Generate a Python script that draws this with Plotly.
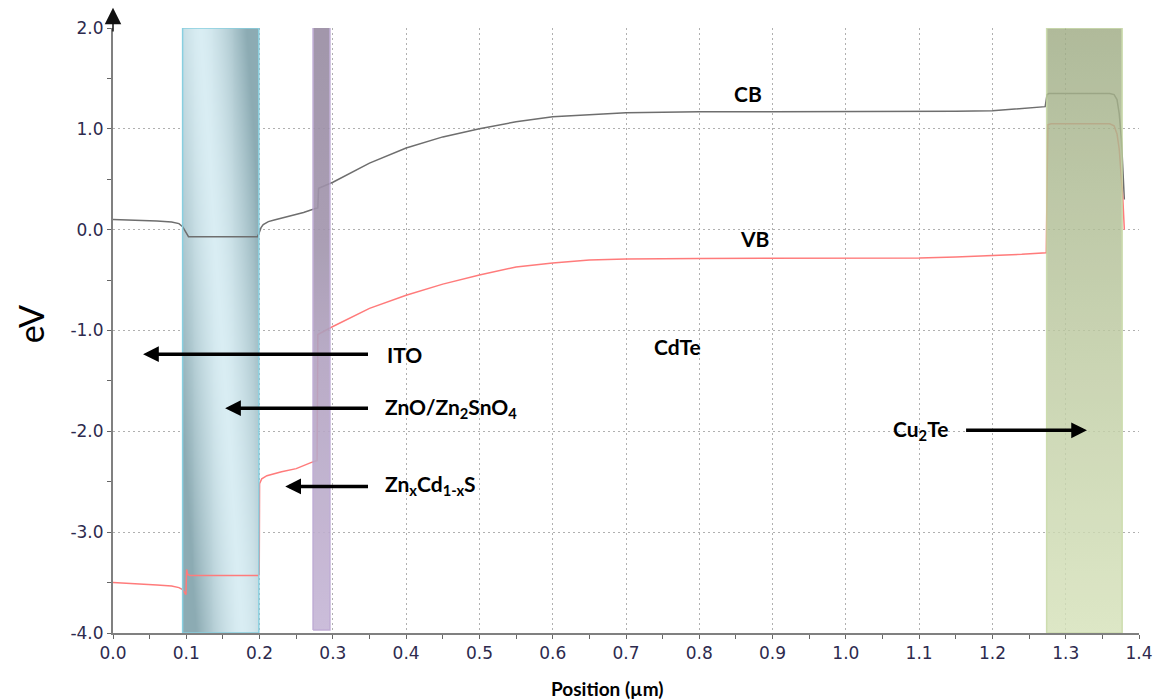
import numpy as np
import plotly.graph_objects as go

# ---------------- data ----------------
cb_x = [0.0, 0.03, 0.06, 0.08, 0.09, 0.095, 0.1, 0.103, 0.15, 0.197, 0.1995, 0.202, 0.205,
        0.212, 0.22, 0.24, 0.26, 0.276, 0.2795, 0.2805, 0.29, 0.3, 0.35, 0.4, 0.45, 0.5,
        0.55, 0.6, 0.65, 0.7, 0.75, 0.8, 0.9, 1.0, 1.1, 1.15, 1.2, 1.24, 1.272, 1.2745,
        1.277, 1.36, 1.366, 1.37, 1.373, 1.376, 1.378, 1.38]
cb_y = [0.10, 0.095, 0.085, 0.075, 0.06, 0.03, -0.04, -0.07, -0.07, -0.07, -0.03, 0.02, 0.05,
        0.08, 0.095, 0.13, 0.17, 0.21, 0.215, 0.41, 0.44, 0.47, 0.66, 0.81, 0.92, 1.0,
        1.07, 1.12, 1.14, 1.16, 1.165, 1.17, 1.17, 1.17, 1.17, 1.175, 1.18, 1.2, 1.22, 1.34,
        1.35, 1.35, 1.34, 1.29, 1.15, 0.9, 0.6, 0.3]

vb_x = [0.0, 0.03, 0.06, 0.08, 0.09, 0.095, 0.098, 0.0995, 0.1005, 0.102, 0.105, 0.15, 0.198,
        0.1995, 0.2, 0.203, 0.21, 0.23, 0.25, 0.27, 0.2785, 0.2795, 0.29, 0.3, 0.35, 0.4,
        0.45, 0.5, 0.55, 0.6, 0.65, 0.7, 0.8, 0.9, 1.0, 1.1, 1.15, 1.2, 1.24, 1.2735, 1.2755,
        1.28, 1.36, 1.366, 1.37, 1.373, 1.376, 1.378, 1.38]
vb_y = [-3.50, -3.51, -3.525, -3.535, -3.55, -3.57, -3.60, -3.62, -3.37, -3.42, -3.43, -3.43,
        -3.43, -3.42, -2.52, -2.47, -2.44, -2.40, -2.37, -2.31, -2.29, -1.04, -1.00, -0.96,
        -0.78, -0.65, -0.54, -0.45, -0.37, -0.33, -0.30, -0.29, -0.285, -0.285, -0.285, -0.28,
        -0.27, -0.26, -0.245, -0.23, 1.04, 1.05, 1.05, 1.03, 0.95, 0.8, 0.55, 0.3, 0.0]

layer_names = ["ZnO/Zn2SnO4", "ZnxCd1-xS", "Cu2Te"]
layer_x0 = [0.095, 0.273, 1.274]
layer_x1 = [0.199, 0.296, 1.377]
layer_y0 = [-4.0, -3.97, -4.0]
layer_y1 = [2.0, 2.02, 2.0]

x_ticks = [0.0, 0.1, 0.2, 0.3, 0.4, 0.5, 0.6, 0.7, 0.8, 0.9, 1.0, 1.1, 1.2, 1.3, 1.4]
x_tick_labels = ["0.0", "0.1", "0.2", "0.3", "0.4", "0.5", "0.6", "0.7", "0.8", "0.9",
                 "1.0", "1.1", "1.2", "1.3", "1.4"]
y_ticks = [-4, -3, -2, -1, 0, 1, 2]
y_tick_labels = ["-4.0", "-3.0", "-2.0", "-1.0", "0.0", "1.0", "2.0"]

fig = go.Figure()

# ---- cyan (ZnO) band: cylinder-like diagonal shading ----
nx, ny = 40, 60
xe = np.linspace(layer_x0[0], layer_x1[0], nx + 1)
ye = np.linspace(layer_y0[0], layer_y1[0], ny + 1)
u = (np.arange(nx) + 0.5) / nx
v = (np.arange(ny) + 0.5) / ny
U, V = np.meshgrid(u, v)
center = 0.78 - 0.55 * V
shade = np.clip(np.abs(U - center) / 0.6, 0, 1) ** 1.6
fig.add_trace(go.Heatmap(x=xe, y=ye, z=shade, zsmooth="best", showscale=False,
                         colorscale=[[0, "#d9edf3"], [1, "#8cabb3"]], zmin=0, zmax=1,
                         hoverinfo="skip"))

# ---- band lines ----
fig.add_trace(go.Scatter(x=cb_x, y=cb_y, mode="lines", line=dict(color="#6e6e6e", width=1.5),
                         hoverinfo="skip"))
fig.add_trace(go.Scatter(x=vb_x, y=vb_y, mode="lines", line=dict(color="#ff7b7b", width=1.5),
                         hoverinfo="skip"))

# ---- purple and green bands (semi-transparent over lines) ----
grad = {1: [[0, "#c6b6d6"], [0.45, "#b2a3c1"], [0.65, "#a194ac"], [1, "#988ba2"]],
        2: [[0, "#d6e2ba"], [0.5, "#bcc9a0"], [1, "#9fac85"]]}
edge = {1: "#b9a4d0", 2: "#c3d69e"}
opac = {1: 0.9, 2: 0.82}
for i in (1, 2):
    x0, x1, y0, y1 = layer_x0[i], layer_x1[i], layer_y0[i], layer_y1[i]
    fig.add_trace(go.Scatter(x=[x0, x1, x1, x0, x0], y=[y0, y0, y1, y1, y0], mode="lines",
                             fill="toself", fillgradient=dict(type="vertical", colorscale=grad[i]),
                             line=dict(color=edge[i], width=1.5), opacity=opac[i],
                             hoverinfo="skip"))

# cyan border
fig.add_shape(type="rect", x0=layer_x0[0], x1=layer_x1[0], y0=layer_y0[0], y1=layer_y1[0],
              line=dict(color="#88cfe0", width=1.5), layer="above")

font_lbl = dict(family="Lato, 'Open Sans', sans-serif", size=21, color="#000000")

ann = []
def label(text, x, y, xanchor="left"):
    ann.append(dict(x=x, y=y, xref="x", yref="y", text="<b>%s</b>" % text, showarrow=False,
                    xanchor=xanchor, yanchor="middle", font=font_lbl))

def arrow(x_head, x_tail, y):
    ann.append(dict(x=x_head, y=y, ax=x_tail, ay=y, xref="x", yref="y", axref="x", ayref="y",
                    text="", showarrow=True, arrowhead=2, arrowsize=0.9, arrowwidth=3.5,
                    arrowcolor="#000000", standoff=0))

label("CB", 0.866, 1.35, "center")
label("VB", 0.876, -0.085, "center")
label("ITO", 0.371, -1.235)
label("ZnO/Zn<sub>2</sub>SnO<sub>4</sub>", 0.369, -1.77)
label("Zn<sub>x</sub>Cd<sub>1-x</sub>S", 0.369, -2.53)
label("CdTe", 0.735, -1.16)
label("Cu<sub>2</sub>Te", 1.062, -1.99)

arrow(0.041, 0.35, -1.235)
arrow(0.153, 0.35, -1.77)
arrow(0.235, 0.35, -2.547)
arrow(1.329, 1.162, -1.99)

# y-axis arrow head
ann.append(dict(x=0, y=2.2, ax=0, ay=1.95, xref="x", yref="y", axref="x", ayref="y", text="",
                showarrow=True, arrowhead=2, arrowsize=2.2, arrowwidth=1.5, arrowcolor="#111111",
                standoff=0))

# axis titles
ann.append(dict(x=0.674, y=-0.091, xref="x", yref="paper", text="<b>Position (µm)</b>",
                showarrow=False, xanchor="center", yanchor="middle",
                font=dict(family="Lato, 'Open Sans', sans-serif", size=19, color="#000000")))
ann.append(dict(x=-0.08, y=0.51, xref="paper", yref="paper", text="eV", textangle=-90,
                showarrow=False, xanchor="center", yanchor="middle",
                font=dict(family="Lato, 'Open Sans', sans-serif", size=34, color="#000000")))

tick_font = dict(family="DejaVu Sans", size=17, color="#2d2a4e")
fig.update_layout(
    width=1159, height=700,
    margin=dict(l=113, r=20, t=28, b=67, autoexpand=False),
    paper_bgcolor="white", plot_bgcolor="white",
    showlegend=False,
    annotations=ann,
    xaxis=dict(range=[0, 1.4], tickvals=x_ticks, ticktext=x_tick_labels, showgrid=True,
               automargin=False,
               gridcolor="#b0b0b0", griddash="2px,3px", gridwidth=1, zeroline=False,
               showline=True, linecolor="#808080", linewidth=2, ticks="outside", ticklen=4,
               tickcolor="#666666", tickfont=tick_font,
               minor=dict(dtick=0.05, ticks="outside", ticklen=4, tickcolor="#666666", showgrid=False)),
    yaxis=dict(range=[-4, 2], tickvals=y_ticks, ticktext=y_tick_labels, showgrid=True,
               automargin=False,
               gridcolor="#b0b0b0", griddash="2px,3px", gridwidth=1, zeroline=False,
               showline=True, linecolor="#808080", linewidth=2, ticks="outside", ticklen=4,
               tickcolor="#666666", tickfont=tick_font,
               minor=dict(dtick=0.5, ticks="outside", ticklen=4, tickcolor="#666666", showgrid=False)),
)

fig.write_html("out.html", config={"displayModeBar": False},
               post_script="document.body.style.margin='0px';")
